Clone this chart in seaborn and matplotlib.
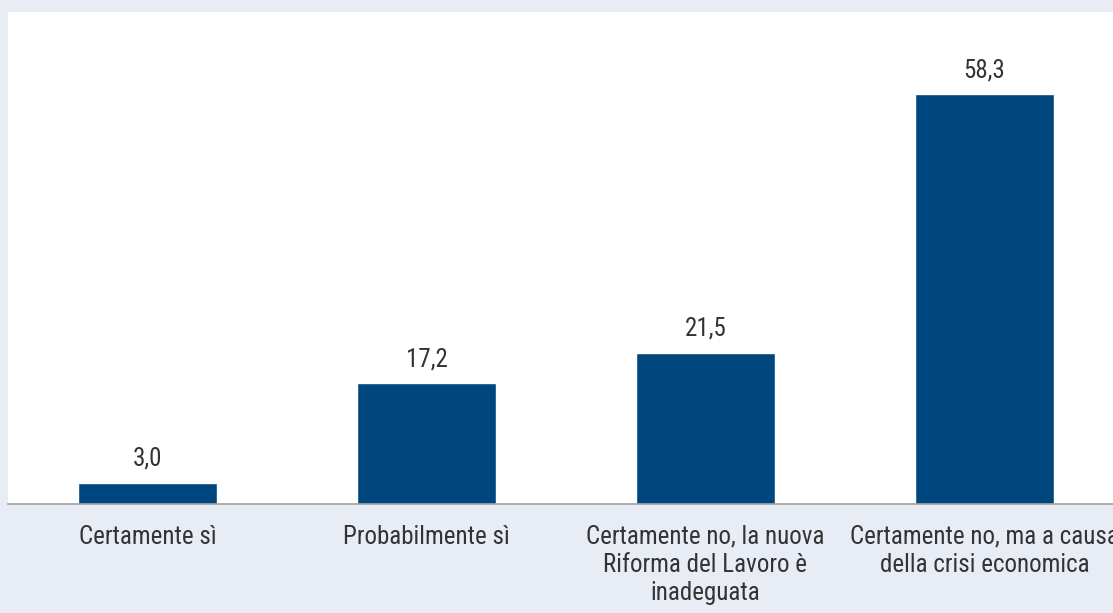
import matplotlib
matplotlib.use("Agg")
import matplotlib.pyplot as plt
import matplotlib.font_manager as fm
import seaborn as sns
import pandas as pd
import numpy as np

categories = [
    "Certamente sì",
    "Probabilmente sì",
    "Certamente no, la nuova\nRiforma del Lavoro è\ninadeguata",
    "Certamente no, ma a causa\ndella crisi economica",
]
values = [3.0, 17.2, 21.5, 58.3]
value_labels = ["3,0", "17,2", "21,5", "58,3"]

sns.set_theme(style="white")
names = {f.name for f in fm.fontManager.ttflist}
fams = [n for n in ["Roboto Condensed", "Open Sans Condensed", "Archivo Narrow",
                    "Asap Condensed"] if n in names]
plt.rcParams["font.family"] = fams[:1] + ["DejaVu Sans"]

BG = "#e8ecf4"
BAR = "#00467f"
TXT = "#333333"

W, H = 1113, 613
fig = plt.figure(figsize=(W / 100, H / 100), dpi=100)
fig.patch.set_facecolor(BG)
left, right, top, bottom = 8, 1124, 12, 504
ax = fig.add_axes([left / W, 1 - bottom / H, (right - left) / W, (bottom - top) / H])
ax.set_facecolor("white")

df = pd.DataFrame({"cat": categories, "val": values})
sns.barplot(data=df, x="cat", y="val", color=BAR, saturation=1, width=0.5, ax=ax)

ax.set_ylim(0, 70)
ax.set_xlim(-0.5, 3.5)
ax.set_xlabel("")
ax.set_ylabel("")
ax.set_yticks([])
for s in ["top", "right", "left"]:
    ax.spines[s].set_visible(False)
ax.spines["bottom"].set_color("#a0a0a0")
ax.spines["bottom"].set_linewidth(1.2)

ax.set_xticks(range(len(categories)))
ax.set_xticklabels(categories, fontsize=18, fontweight="normal", color=TXT,
                   linespacing=1.22, va="top")
ax.tick_params(axis="x", which="major", length=0, pad=15)
ax.set_xticks(np.arange(-0.5, len(categories), 1.0), minor=True)
ax.tick_params(axis="x", which="minor", length=6, color="#a0a0a0", width=1.2, direction="out")

for p, lab in zip(ax.patches, value_labels):
    ax.annotate(lab, (p.get_x() + p.get_width() / 2, p.get_height()),
                xytext=(0, 12), textcoords="offset pixels",
                ha="center", va="bottom", fontsize=18, fontweight="normal", color=TXT)

fig.savefig("out.png", dpi=100, facecolor=BG)
